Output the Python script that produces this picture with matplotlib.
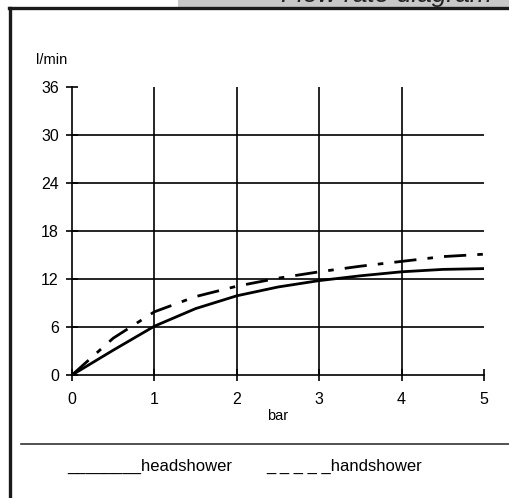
import matplotlib
matplotlib.use("Agg")
import matplotlib.pyplot as plt
from matplotlib.lines import Line2D
from matplotlib.patches import Rectangle

plt.rcParams['font.family'] = ['Liberation Sans', 'DejaVu Sans']

pressure = [0, 0.5, 1, 1.5, 2, 2.5, 3, 3.5, 4, 4.5, 5]
headshower = [0, 3.1, 6.1, 8.3, 9.9, 11.0, 11.8, 12.4, 12.9, 13.2, 13.3]
handshower = [0, 4.6, 7.9, 9.8, 11.1, 12.1, 12.9, 13.6, 14.2, 14.8, 15.1]
x_ticks = [0, 1, 2, 3, 4, 5]
y_ticks = [0, 6, 12, 18, 24, 30, 36]

W, H = 510, 498
fig = plt.figure(figsize=(W / 100, H / 100), dpi=100)
fig.patch.set_facecolor('white')

# title tab along the top edge
fig.add_artist(Rectangle((178 / W, 1 - 7 / H), 1 - 178 / W, 7 / H,
                         transform=fig.transFigure, facecolor='#c8c8c8',
                         edgecolor='none'))
fig.text(492 / W, 1 - 2 / H, 'Flow rate diagram', ha='right', va='baseline',
         fontsize=19, style='italic', color='#222222')

# frame lines
fig.add_artist(Line2D([9 / W, 1], [1 - 8 / H, 1 - 8 / H], transform=fig.transFigure,
                      color='#1a1a1a', lw=2.4))
fig.add_artist(Line2D([10.5 / W, 10.5 / W], [0, 1 - 8 / H], transform=fig.transFigure,
                      color='#1a1a1a', lw=2.4))
fig.add_artist(Line2D([21 / W, 1], [1 - 444 / H, 1 - 444 / H], transform=fig.transFigure,
                      color='#333333', lw=1.2))

ax = fig.add_axes([72 / W, 1 - 375 / H, (484 - 72) / W, (375 - 87) / H])
ax.set_xlim(0, 5)
ax.set_ylim(0, 36)

for x in x_ticks[1:-1]:
    ax.axvline(x, color='black', lw=1.2, zorder=1)
for y in y_ticks[1:-1]:
    ax.axhline(y, color='black', lw=1.2, zorder=1)

ax.plot(pressure, headshower, color='black', lw=2.0, zorder=3)
ax.plot(pressure, handshower, color='black', lw=2.0, zorder=3,
        dashes=(8, 4, 2, 4))

for side in ['top', 'right']:
    ax.spines[side].set_visible(False)
for side in ['left', 'bottom']:
    ax.spines[side].set_linewidth(1.2)
ax.set_xticks(x_ticks)
ax.set_yticks(y_ticks)
ax.tick_params(direction='inout', length=9, width=1.2, labelsize=11.5)
ax.tick_params(axis='x', pad=8)
ax.tick_params(axis='y', pad=5)
ax.set_xlabel('bar', fontsize=10.5, labelpad=1)

fig.text(36 / W, 1 - 60 / H, 'l/min', fontsize=10.5, ha='left', va='center')

fig.text(67 / W, 1 - 466 / H, '________headshower', fontsize=12, ha='left', va='center')
fig.text(266 / W, 1 - 466 / H, '_ _ _ _ _handshower', fontsize=12, ha='left', va='center')

fig.savefig('out.png', dpi=100, facecolor='white')
